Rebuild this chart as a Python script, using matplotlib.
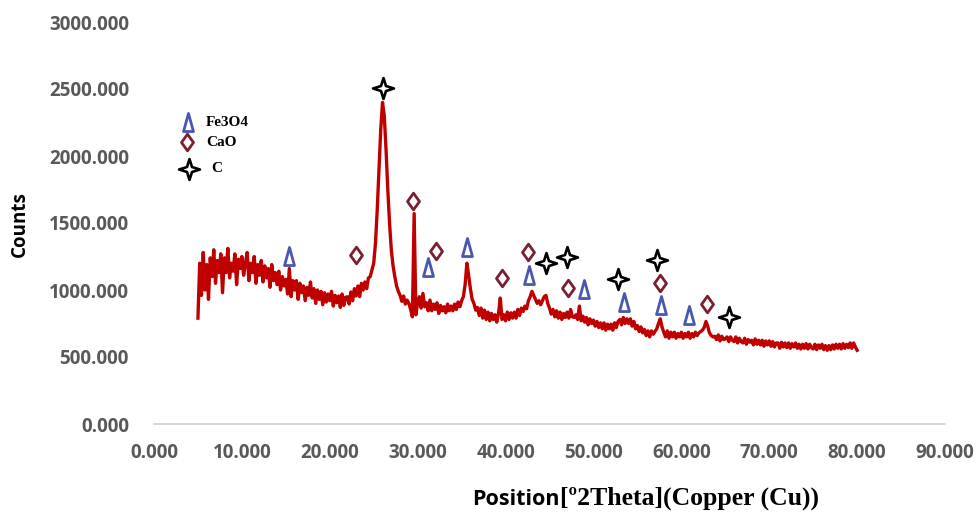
import matplotlib
matplotlib.use("Agg")
import matplotlib.pyplot as plt
import numpy as np
from matplotlib.path import Path
from matplotlib.ticker import FormatStrFormatter

# XRD scan, 5.0 -> 80.0 deg 2theta, one reading every 0.2 deg (5 per row)
theta_start = 5.0
theta_step = 0.2
counts = [
    790, 1200, 960, 1280, 1000,     # 5
    1190, 930, 1240, 1100, 1300,    # 6
    1050, 1220, 1130, 1270, 980,    # 7
    1240, 1130, 1310, 1090, 1200,   # 8
    1140, 1270, 1040, 1230, 1160,   # 9
    1250, 1110, 1200, 1280, 1070,   # 10
    1200, 1130, 1250, 1050, 1190,   # 11
    1110, 1220, 1060, 1180, 1090,   # 12
    1160, 1020, 1190, 1070, 1130,   # 13
    1040, 1140, 1000, 1100, 1030,   # 14
    1080, 970, 1160, 950, 1070,     # 15
    1000, 1070, 930, 1050, 980,     # 16
    1030, 920, 1020, 960, 1060,     # 17
    940, 1010, 900, 1000, 930,      # 18
    990, 890, 980, 910, 970,        # 19
    920, 990, 880, 960, 905,        # 20
    955, 870, 970, 885, 945,        # 21
    950, 895, 985, 920, 1010,       # 22
    955, 1030, 950, 1050, 1000,     # 23
    1060, 1010, 1090, 1100, 1150,   # 24
    1200, 1350, 1600, 1900, 2200,   # 25
    2400, 2300, 2050, 1750, 1500,   # 26
    1300, 1180, 1100, 1030, 990,    # 27
    960, 915, 955, 895, 925,        # 28
    900, 855, 800, 1570, 815,       # 29
    905, 950, 865, 975, 875,        # 30
    905, 845, 925, 845, 895,        # 31
    855, 905, 825, 885, 845,        # 32
    875, 830, 895, 845, 880,        # 33
    845, 895, 855, 910, 875,        # 34
    920, 950, 1040, 1200, 1110,     # 35
    1010, 930, 900, 850, 870,       # 36
    810, 865, 790, 850, 780,        # 37
    835, 770, 825, 780, 815,        # 38
    760, 825, 940, 780, 815,        # 39
    770, 835, 780, 830, 790,        # 40
    835, 790, 855, 810, 865,        # 41
    840, 880, 860, 920, 950,        # 42
    990, 960, 930, 900, 920,        # 43
    890, 920, 950, 960, 900,        # 44
    865, 820, 855, 800, 845,        # 45
    790, 835, 780, 825, 795,        # 46
    835, 790, 855, 800, 795,        # 47
    815, 780, 880, 770, 805,        # 48
    760, 795, 740, 785, 750,        # 49
    775, 730, 765, 720, 755,        # 50
    710, 755, 700, 745, 710,        # 51
    745, 700, 755, 720, 765,        # 52
    780, 740, 795, 750, 785,        # 53
    750, 785, 730, 765, 710,        # 54
    735, 690, 725, 680, 705,        # 55
    660, 695, 650, 695, 670,        # 56
    690, 710, 750, 785, 725,        # 57
    685, 650, 695, 640, 685,        # 58
    650, 685, 640, 675, 650,        # 59
    685, 640, 675, 650, 685,        # 60
    640, 675, 650, 685, 660,        # 61
    680, 690, 700, 720, 765,        # 62
    730, 680, 660, 650, 655,        # 63
    630, 665, 620, 655, 630,        # 64
    635, 650, 615, 650, 625,        # 65
    615, 650, 605, 640, 615,        # 66
    605, 640, 595, 630, 610,        # 67
    625, 590, 635, 595, 625,        # 68
    590, 625, 580, 620, 590,        # 69
    620, 580, 615, 575, 605,        # 70
    605, 565, 610, 575, 605,        # 71
    570, 605, 565, 600, 575,        # 72
    605, 565, 595, 560, 595,        # 73
    565, 600, 560, 595, 570,        # 74
    560, 595, 555, 590, 565,        # 75
    595, 555, 585, 550, 585,        # 76
    555, 590, 560, 595, 565,        # 77
    595, 560, 600, 565, 595,        # 78
    570, 605, 565, 605, 575,        # 79
    550,                            # 80
]

# phase identification marks (2theta, height of symbol)
fe3o4_pos = [15.4, 31.2, 35.6, 42.7, 48.9, 53.5, 57.7, 60.9]
fe3o4_y = [1254, 1172, 1321, 1112, 1007, 910, 888, 813]
cao_pos = [23.0, 29.5, 32.1, 39.6, 42.5, 47.1, 57.6, 62.9]
cao_y = [1261, 1664, 1291, 1090, 1284, 1015, 1052, 896]
c_pos = [26.05, 44.6, 47.0, 52.8, 57.2, 65.4]
c_y = [2507, 1201, 1246, 1082, 1224, 799]

legend_labels = ["Fe3O4", "CaO", "C"]
x_ticks = [0, 10, 20, 30, 40, 50, 60, 70, 80, 90]
y_ticks = [0, 500, 1000, 1500, 2000, 2500, 3000]

TRI = Path([(0, 1), (0.55, -1), (-0.55, -1), (0, 1)],
           [Path.MOVETO, Path.LINETO, Path.LINETO, Path.CLOSEPOLY])
DIA = Path([(0, 1), (0.72, 0), (0, -1), (-0.72, 0), (0, 1)],
           [Path.MOVETO, Path.LINETO, Path.LINETO, Path.LINETO, Path.CLOSEPOLY])
STAR = Path([(0, 1), (0.24, 0.24), (1, 0), (0.24, -0.24), (0, -1),
             (-0.24, -0.24), (-1, 0), (-0.24, 0.24), (0, 1)],
            [Path.MOVETO] + [Path.LINETO] * 7 + [Path.CLOSEPOLY])

BLUE = "#4a57b0"
WINE = "#7a1e30"
LINE_RED = "#c00000"
TICK_GRAY = "#595959"

TRI_STYLE = dict(marker=TRI, markersize=13, markerfacecolor="white",
                 markeredgecolor=BLUE, markeredgewidth=2.0, linestyle="none")
DIA_STYLE = dict(marker=DIA, markersize=12, markerfacecolor="white",
                 markeredgecolor=WINE, markeredgewidth=2.0, linestyle="none")
STAR_STYLE = dict(marker=STAR, markersize=15, markerfacecolor="white",
                  markeredgecolor="black", markeredgewidth=1.9, linestyle="none")


def main():
    """draw the diffractogram"""
    W, H = 976, 514
    fig = plt.figure(figsize=(W / 100, H / 100), dpi=100)
    ax = fig.add_axes([154 / W, 1 - 424 / H, 791 / W, 402 / H])

    theta = theta_start + theta_step * np.arange(len(counts))
    ax.plot(theta, counts, color=LINE_RED, linewidth=2.4, zorder=2)

    ax.plot(fe3o4_pos, fe3o4_y, zorder=3, **TRI_STYLE)
    ax.plot(cao_pos, cao_y, zorder=3, **DIA_STYLE)
    ax.plot(c_pos, c_y, zorder=3, **STAR_STYLE)

    ax.set_xlim(0, 90)
    ax.set_ylim(0, 3000)
    ax.set_xticks(x_ticks)
    ax.set_yticks(y_ticks)
    ax.xaxis.set_major_formatter(FormatStrFormatter("%.3f"))
    ax.yaxis.set_major_formatter(FormatStrFormatter("%.3f"))
    for side in ["top", "right", "left"]:
        ax.spines[side].set_visible(False)
    ax.spines["bottom"].set_color("#d0d0d0")
    ax.spines["bottom"].set_linewidth(1.2)
    ax.tick_params(axis="both", length=0, labelcolor=TICK_GRAY, labelsize=13.5)
    ax.tick_params(axis="x", pad=14)
    ax.tick_params(axis="y", pad=18)
    for lab in ax.get_xticklabels() + ax.get_yticklabels():
        lab.set_fontfamily("Open Sans")
        lab.set_fontweight("bold")

    # legend drawn by hand in figure pixels
    tf = fig.transFigure
    rows = [(188, 122, TRI_STYLE), (187, 142, DIA_STYLE), (189, 169, STAR_STYLE)]
    text_x = [206, 206, 211]
    for (px, py, style), tx, label in zip(rows, text_x, legend_labels):
        ax.plot([px / W], [1 - py / H], transform=tf, clip_on=False, **style)
        fig.text(tx / W, 1 - py / H, label, ha="left", va="center",
                 family="Liberation Serif", weight="bold", fontsize=11)

    fig.text(20 / W, 1 - 224 / H, "Counts", rotation=90, ha="center",
             va="center", family="Open Sans", weight="bold", fontsize=13.5)
    fig.text(560 / W, 1 - 505 / H, "Position", ha="right", va="baseline",
             family="Open Sans", weight="bold", fontsize=15.5)
    fig.text(560 / W, 1 - 505 / H, "[º2Theta](Copper (Cu))", ha="left",
             va="baseline", family="Liberation Serif", weight="bold",
             fontsize=18.5)

    fig.savefig("out.png", dpi=100, facecolor="white")


if __name__ == "__main__":
    main()
